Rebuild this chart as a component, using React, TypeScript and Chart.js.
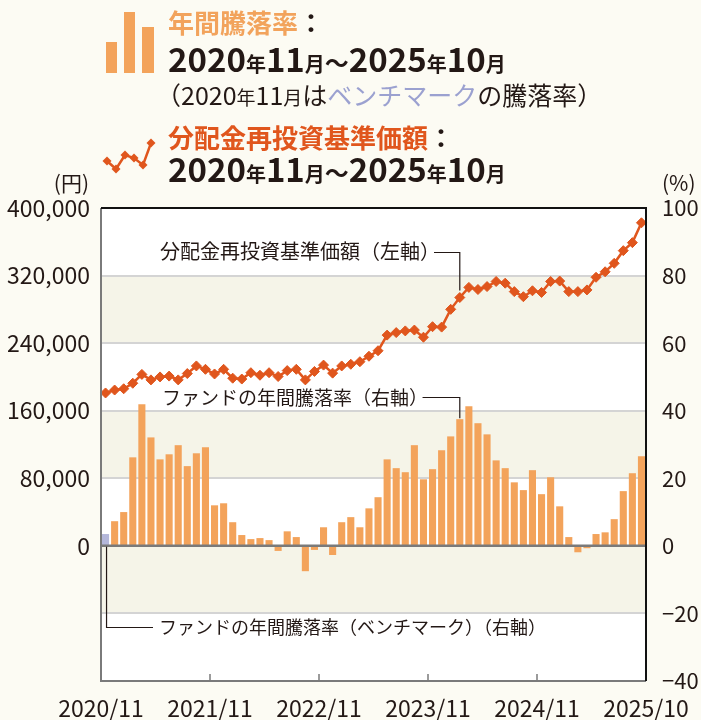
import React, { useEffect, useRef } from 'react';
import { Chart, registerables } from 'chart.js';

Chart.register(...registerables);

// ---------- data ----------
const months: string[] = [
  '2020/11', '2020/12',
  '2021/01', '2021/02', '2021/03', '2021/04', '2021/05', '2021/06', '2021/07', '2021/08', '2021/09', '2021/10', '2021/11', '2021/12',
  '2022/01', '2022/02', '2022/03', '2022/04', '2022/05', '2022/06', '2022/07', '2022/08', '2022/09', '2022/10', '2022/11', '2022/12',
  '2023/01', '2023/02', '2023/03', '2023/04', '2023/05', '2023/06', '2023/07', '2023/08', '2023/09', '2023/10', '2023/11', '2023/12',
  '2024/01', '2024/02', '2024/03', '2024/04', '2024/05', '2024/06', '2024/07', '2024/08', '2024/09', '2024/10', '2024/11', '2024/12',
  '2025/01', '2025/02', '2025/03', '2025/04', '2025/05', '2025/06', '2025/07', '2025/08', '2025/09', '2025/10',
];

// 年間騰落率 (%) — first value is the benchmark
const annualReturn: number[] = [
  3.5, 7.3, 10.0, 26.2, 41.9, 32.1, 25.6, 27.1, 29.8, 23.6, 27.4, 29.2,
  12.0, 12.6, 7.0, 3.2, 2.0, 2.3, 1.7, -1.5, 4.3, 2.6, -7.5, -1.2,
  5.5, -2.7, 7.0, 8.5, 5.5, 11.1, 14.4, 25.6, 23.0, 21.8, 29.8, 19.7,
  22.7, 28.3, 32.4, 37.5, 41.3, 36.3, 33.0, 25.3, 23.0, 18.8, 16.5, 22.4,
  15.3, 20.3, 11.7, 2.6, -1.9, -0.7, 3.5, 4.0, 7.9, 16.2, 21.5, 26.5,
];

// 分配金再投資基準価額 (円)
const navValues: number[] = [
  181000, 184500, 186000, 192500, 203000, 196500, 200000, 201000, 196500, 204000, 213000, 209000,
  203500, 209000, 198500, 197500, 205000, 202000, 205000, 200500, 207500, 209000, 196500, 206500,
  214000, 204500, 213000, 215000, 218000, 224500, 231000, 249500, 252500, 254500, 255500, 247000,
  259500, 259000, 280000, 294000, 306000, 303500, 307000, 313000, 311000, 301000, 295000, 302000,
  300000, 313000, 313500, 301000, 301000, 303000, 318000, 324500, 334500, 349500, 359000, 382500,
];

const xTickLabels: string[] = ['2020/11', '2021/11', '2022/11', '2023/11', '2024/11', '2025/10'];
const leftGridValues: number[] = [320000, 240000, 160000, 80000, -80000];
const shadedBands: number[][] = [[80, 60], [40, 20], [0, -20]];

// ---------- style ----------
const FONT = "'Noto Sans CJK JP', 'Noto Sans', sans-serif";
const INK = '#231815';
const BAR = '#f3a35b';
const BENCH = '#b4b7da';
const LINE = '#e0561d';
const BG = '#fcfbf3';
const BAND = '#f5f4e8';
const GRID = '#d4d4d4';
const AXIS = '#7a7a7a';

type Run = { t: string; f: string; c?: string };

function drawRuns(ctx: CanvasRenderingContext2D, x: number, y: number, runs: Run[]) {
  ctx.textAlign = 'left';
  ctx.textBaseline = 'alphabetic';
  for (const r of runs) {
    ctx.font = r.f;
    ctx.fillStyle = r.c || INK;
    ctx.fillText(r.t, x, y);
    x += ctx.measureText(r.t).width;
  }
  return x;
}

function dateRuns(): Run[] {
  const big = `bold 33px ${FONT}`;
  const small = `bold 20px ${FONT}`;
  return [
    { t: '2020', f: big }, { t: '年', f: small }, { t: '11', f: big }, { t: '月', f: small },
    { t: '～', f: `bold 24px ${FONT}` },
    { t: '2025', f: big }, { t: '年', f: small }, { t: '10', f: big }, { t: '月', f: small },
  ];
}

// draws an annotation; returns where its visible text ends (full-width bracket has a trailing gap)
function annText(ctx: CanvasRenderingContext2D, text: string, size: number, x: number, y: number) {
  ctx.font = `${size}px ${FONT}`;
  ctx.fillText(text, x, y);
  return x + ctx.measureText(text).width - size * 0.55;
}

const decor = {
  id: 'decor',
  beforeDraw(chart: any) {
    const { ctx, chartArea: a, scales } = chart;
    const yR = scales.yR;
    ctx.save();
    ctx.fillStyle = BG;
    ctx.fillRect(0, 0, chart.width, chart.height);
    ctx.fillStyle = '#ffffff';
    ctx.fillRect(a.left, a.top, a.right - a.left, a.bottom - a.top);
    ctx.fillStyle = BAND;
    for (const [hi, lo] of shadedBands) {
      const y1 = yR.getPixelForValue(hi);
      const y2 = yR.getPixelForValue(lo);
      ctx.fillRect(a.left, y1, a.right - a.left, y2 - y1);
    }
    ctx.restore();
  },
  afterDatasetsDraw(chart: any) {
    const { ctx, chartArea: a, scales } = chart;
    const yR = scales.yR;
    const xl = scales.xl;
    ctx.save();
    // zero line
    const y0 = yR.getPixelForValue(0);
    ctx.strokeStyle = AXIS;
    ctx.lineWidth = 2.5;
    ctx.beginPath();
    ctx.moveTo(a.left, y0);
    ctx.lineTo(a.right, y0);
    ctx.stroke();
    // bottom + left border
    ctx.lineWidth = 2;
    ctx.beginPath();
    ctx.moveTo(a.left, a.top);
    ctx.lineTo(a.left, a.bottom);
    ctx.lineTo(a.right, a.bottom);
    ctx.stroke();
    // inner tick marks at year boundaries
    ctx.lineWidth = 1.5;
    for (const v of [12, 24, 36, 48]) {
      const x = xl.getPixelForValue(v);
      ctx.beginPath();
      ctx.moveTo(x, a.bottom);
      ctx.lineTo(x, a.bottom - 7);
      ctx.stroke();
    }
    // top + right border
    ctx.strokeStyle = '#111';
    ctx.lineWidth = 2;
    ctx.beginPath();
    ctx.moveTo(a.left, a.top);
    ctx.lineTo(a.right, a.top);
    ctx.lineTo(a.right, a.bottom);
    ctx.stroke();

    // annotations
    const barMeta = chart.getDatasetMeta(0);
    const lineMeta = chart.getDatasetMeta(1);
    ctx.fillStyle = INK;
    ctx.strokeStyle = INK;
    ctx.lineWidth = 1.2;
    ctx.textBaseline = 'alphabetic';
    ctx.textAlign = 'left';

    // 1. line label
    const e1 = annText(ctx, '分配金再投資基準価額（左軸）', 20, 160, 259) + 5;
    const p1 = lineMeta.data[39];
    ctx.beginPath();
    ctx.moveTo(e1, 252.5);
    ctx.lineTo(p1.x, 252.5);
    ctx.lineTo(p1.x, p1.y - 7);
    ctx.stroke();

    // 2. bar label
    const e2 = annText(ctx, 'ファンドの年間騰落率（右軸）', 19, 162, 405) + 5;
    const b2 = barMeta.data[39];
    ctx.beginPath();
    ctx.moveTo(e2, 397.5);
    ctx.lineTo(b2.x, 397.5);
    ctx.lineTo(b2.x, b2.y - 1);
    ctx.stroke();

    // 3. benchmark label
    annText(ctx, 'ファンドの年間騰落率（ベンチマーク）（右軸）', 18, 159, 634);
    const b3 = barMeta.data[0];
    ctx.beginPath();
    ctx.moveTo(b3.x + 1, y0 + 1);
    ctx.lineTo(b3.x + 1, 627.5);
    ctx.lineTo(153, 627.5);
    ctx.stroke();
    ctx.restore();
  },
  afterDraw(chart: any) {
    const { ctx } = chart;
    ctx.save();
    // bar icon
    ctx.fillStyle = BAR;
    ctx.fillRect(106, 42, 11, 31);
    ctx.fillRect(124, 12, 11, 61);
    ctx.fillRect(142, 27, 12, 46);
    // line icon
    const pts = [[107, 161], [116, 169], [125, 155], [134, 158], [143, 165], [151, 143]];
    ctx.strokeStyle = LINE;
    ctx.fillStyle = LINE;
    ctx.lineWidth = 2.5;
    ctx.beginPath();
    pts.forEach(([x, y], i) => (i ? ctx.lineTo(x, y) : ctx.moveTo(x, y)));
    ctx.stroke();
    for (const [x, y] of pts) {
      ctx.beginPath();
      ctx.moveTo(x - 4.5, y);
      ctx.lineTo(x, y - 4.5);
      ctx.lineTo(x + 4.5, y);
      ctx.lineTo(x, y + 4.5);
      ctx.closePath();
      ctx.fill();
    }
    // header texts
    drawRuns(ctx, 168, 33, [
      { t: '年間騰落率', f: `bold 26px ${FONT}`, c: '#f2a35c' },
      { t: '：', f: `bold 26px ${FONT}` },
    ]);
    drawRuns(ctx, 168, 72, dateRuns());
    drawRuns(ctx, 156, 105, [
      { t: '（', f: `25px ${FONT}` },
      { t: '2020', f: `25px ${FONT}` },
      { t: '年', f: `19px ${FONT}` },
      { t: '11', f: `25px ${FONT}` },
      { t: '月', f: `19px ${FONT}` },
      { t: 'は', f: `25px ${FONT}` },
      { t: 'ベンチマーク', f: `25px ${FONT}`, c: '#9ba1d0' },
      { t: 'の騰落率）', f: `25px ${FONT}` },
    ]);
    drawRuns(ctx, 168, 148, [
      { t: '分配金再投資基準価額', f: `bold 26px ${FONT}`, c: LINE },
      { t: '：', f: `bold 26px ${FONT}` },
    ]);
    drawRuns(ctx, 168, 182, dateRuns());
    // unit labels
    ctx.font = `21px ${FONT}`;
    ctx.fillStyle = INK;
    ctx.textAlign = 'right';
    ctx.fillText('(円)', 89, 191);
    ctx.textAlign = 'left';
    ctx.fillText('(%)', 662, 191);
    ctx.restore();
  },
};

export default function App() {
  const ref = useRef<HTMLCanvasElement>(null);
  useEffect(() => {
    if (!ref.current) return;
    const chart = new Chart(ref.current, {
      type: 'bar',
      data: {
        labels: months,
        datasets: [
          {
            type: 'bar',
            label: '年間騰落率',
            data: annualReturn,
            backgroundColor: annualReturn.map((_, i) => (i === 0 ? BENCH : BAR)),
            barPercentage: 0.78,
            categoryPercentage: 1.0,
            xAxisID: 'x',
            yAxisID: 'yR',
            order: 2,
          } as any,
          {
            type: 'line',
            label: '分配金再投資基準価額',
            data: navValues,
            borderColor: LINE,
            borderWidth: 2.5,
            pointStyle: 'rectRot',
            pointRadius: 5,
            pointBackgroundColor: LINE,
            pointBorderColor: LINE,
            pointBorderWidth: 1,
            tension: 0,
            xAxisID: 'x',
            yAxisID: 'yL',
            order: 1,
          } as any,
        ],
      },
      options: {
        responsive: false,
        animation: false,
        devicePixelRatio: 1,
        layout: { padding: { top: 208, left: 0, right: 0, bottom: 0 } },
        plugins: { legend: { display: false }, tooltip: { enabled: false } },
        scales: {
          x: { type: 'category', display: false, offset: true, grid: { display: false } },
          xl: {
            type: 'linear',
            position: 'bottom',
            offset: false,
            min: 0,
            max: 60,
            ticks: {
              stepSize: 12,
              autoSkip: false,
              maxRotation: 0,
              padding: 13,
              color: INK,
              font: { family: FONT, size: 23 },
              callback: (v: any) => xTickLabels[Math.round(Number(v) / 12)] ?? '',
            },
            grid: { display: false, drawTicks: false, offset: false },
            border: { display: false },
            afterFit: (s: any) => {
              s.height = 39;
              s.paddingLeft = 0;
              s.paddingRight = 0;
            },
          },
          yL: {
            type: 'linear',
            position: 'left',
            min: -160000,
            max: 400000,
            ticks: {
              stepSize: 80000,
              padding: 11,
              color: INK,
              font: { family: FONT, size: 23 },
              callback: (v: any) => (Number(v) < 0 ? '' : Number(v).toLocaleString('en-US')),
            },
            grid: {
              drawTicks: false,
              lineWidth: 2,
              color: (c: any) => (leftGridValues.includes(c.tick?.value) ? GRID : 'rgba(0,0,0,0)'),
            },
            border: { display: false },
            afterFit: (s: any) => { s.width = 101; },
          },
          yR: {
            type: 'linear',
            position: 'right',
            min: -40,
            max: 100,
            ticks: {
              stepSize: 20,
              padding: 16,
              color: INK,
              font: { family: FONT, size: 22 },
              callback: (v: any) => (Number(v) < 0 ? '\u2212' + Math.abs(Number(v)) : String(v)),
            },
            grid: { display: false, drawTicks: false },
            border: { display: false },
            afterFit: (s: any) => { s.width = 55; },
          },
        },
      } as any,
      plugins: [decor],
    });
    return () => chart.destroy();
  }, []);
  return (
    <div style={{ position: 'fixed', left: 0, top: 0, width: 701, height: 720, background: BG }}>
      <canvas ref={ref} width={701} height={720} style={{ display: 'block', width: 701, height: 720 }} />
    </div>
  );
}
